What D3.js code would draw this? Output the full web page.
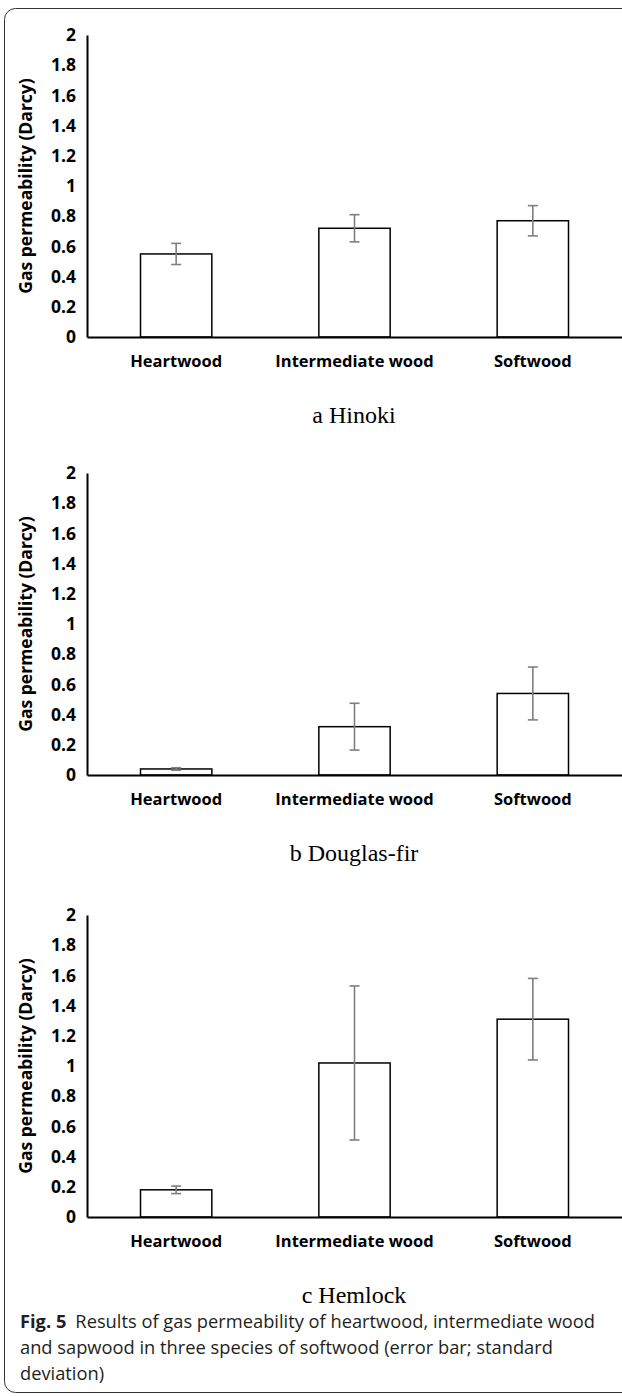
<!DOCTYPE html>
<html>
<head>
<meta charset="utf-8">
<script src="https://cdn.jsdelivr.net/npm/d3@7"></script>
<style>
  body { margin: 0; background: #fff; }
  svg { display: block; }
</style>
</head>
<body>
<svg id="fig" width="622" height="1396"></svg>
<script>
// data
const categories = ["Heartwood", "Intermediate wood", "Softwood"];
const hinokiMean = [0.55, 0.72, 0.77];
const hinokiSD = [0.07, 0.09, 0.10];
const douglasMean = [0.04, 0.32, 0.54];
const douglasSD = [0.008, 0.155, 0.175];
const hemlockMean = [0.18, 1.02, 1.31];
const hemlockSD = [0.025, 0.51, 0.27];
const yTicks = [0, 0.2, 0.4, 0.6, 0.8, 1, 1.2, 1.4, 1.6, 1.8, 2];
const panelLetters = ["a", "b", "c"];
const panelNames = ["Hinoki", "Douglas-fir", "Hemlock"];

const svg = d3.select("#fig");

// outer frame (right side runs off the page)
svg.append("rect")
  .attr("x", 4.5).attr("y", 8.5)
  .attr("width", 660).attr("height", 1384)
  .attr("rx", 11)
  .attr("fill", "none").attr("stroke", "#333").attr("stroke-width", 1);

const axisFont = "'Open Sans', sans-serif";

function drawPanel(means, sds, top, bottom, idx) {
  const x = d3.scaleBand().domain(categories).range([87, 622]).paddingInner(0.6).paddingOuter(0.3);
  const y = d3.scaleLinear().domain([0, 2]).range([bottom, top]);
  const g = svg.append("g");
  const rows = categories.map((c, i) => ({ cat: c, v: means[i], sd: sds[i] }));

  // bars
  g.selectAll("rect.bar").data(rows).join("rect")
    .attr("class", "bar")
    .attr("x", d => x(d.cat))
    .attr("y", d => y(d.v))
    .attr("width", x.bandwidth())
    .attr("height", d => y(0) - y(d.v))
    .attr("fill", "#fff").attr("stroke", "#000").attr("stroke-width", 1.5);

  // error bars
  const eb = g.selectAll("g.err").data(rows).join("g").attr("class", "err")
    .attr("stroke", "#7f7f7f").attr("stroke-width", 1.6);
  const cx = d => x(d.cat) + x.bandwidth() / 2;
  eb.append("line").attr("x1", cx).attr("x2", cx)
    .attr("y1", d => y(d.v - d.sd)).attr("y2", d => y(d.v + d.sd));
  eb.append("line").attr("x1", d => cx(d) - 5).attr("x2", d => cx(d) + 5)
    .attr("y1", d => y(d.v + d.sd)).attr("y2", d => y(d.v + d.sd));
  eb.append("line").attr("x1", d => cx(d) - 5).attr("x2", d => cx(d) + 5)
    .attr("y1", d => y(d.v - d.sd)).attr("y2", d => y(d.v - d.sd));

  // y axis
  const yAxis = d3.axisLeft(y).tickValues(yTicks).tickSize(0).tickPadding(11)
    .tickFormat(d3.format("~g"));
  const ya = g.append("g").attr("transform", "translate(87,0)").call(yAxis);
  ya.select(".domain").attr("stroke", "#000").attr("stroke-width", 2);
  ya.selectAll("text").attr("font-family", axisFont).attr("font-weight", "bold")
    .attr("font-size", 17.5).attr("fill", "#000");

  // x axis
  const xAxis = d3.axisBottom(x).tickSize(0).tickPadding(18);
  const xa = g.append("g").attr("transform", `translate(0,${bottom})`).call(xAxis);
  xa.select(".domain").attr("stroke", "#000").attr("stroke-width", 2);
  xa.selectAll("text").attr("font-family", axisFont).attr("font-weight", "bold")
    .attr("font-size", 16.5).attr("fill", "#000");

  // axis title
  g.append("text")
    .attr("transform", `translate(32,${(top + bottom) / 2}) rotate(-90)`)
    .attr("text-anchor", "middle")
    .attr("font-family", axisFont).attr("font-weight", "bold").attr("font-size", 17.5)
    .text("Gas permeability (Darcy)");

  // panel caption
  g.append("text")
    .attr("x", 354).attr("y", bottom + 86)
    .attr("text-anchor", "middle")
    .attr("font-family", "'Liberation Serif', serif").attr("font-size", 24)
    .text(`${panelLetters[idx]} ${panelNames[idx]}`);
}

drawPanel(hinokiMean, hinokiSD, 35, 337, 0);
drawPanel(douglasMean, douglasSD, 473, 775, 1);
drawPanel(hemlockMean, hemlockSD, 915, 1217, 2);

// figure caption
const cap = svg.append("g").attr("font-family", "'Open Sans', sans-serif")
  .attr("font-size", 18.3).attr("fill", "#231f20");
const l1 = cap.append("text").attr("x", 20).attr("y", 1328);
l1.append("tspan").attr("font-weight", "bold").text("Fig. 5");
l1.append("tspan").attr("dx", 9).text("Results of gas permeability of heartwood, intermediate wood");
cap.append("text").attr("x", 20).attr("y", 1354)
  .text("and sapwood in three species of softwood (error bar; standard");
cap.append("text").attr("x", 20).attr("y", 1380).text("deviation)");
</script>
</body>
</html>
